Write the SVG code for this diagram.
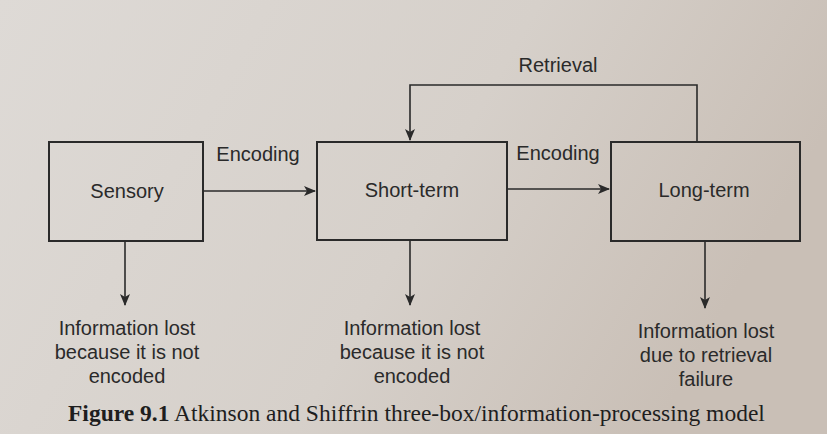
<svg xmlns="http://www.w3.org/2000/svg" width="827" height="434" viewBox="0 0 827 434">
<defs>
<linearGradient id="bg" x1="0" y1="0" x2="1" y2="0.3">
<stop offset="0" stop-color="#dedad6"/><stop offset="0.6" stop-color="#d6d0ca"/><stop offset="1" stop-color="#c9bfb6"/>
</linearGradient>
<marker id="ah" markerWidth="12" markerHeight="10" refX="11" refY="5" orient="auto" markerUnits="userSpaceOnUse">
<path d="M0,0 L12,5 L0,10 L3,5 Z" fill="#2a2a2a"/>
</marker>
</defs>
<style>
.box{fill:none;stroke:#2a2a2a;stroke-width:2}
.ln{fill:none;stroke:#2a2a2a;stroke-width:1.6;marker-end:url(#ah)}
.t{font-family:"Liberation Sans",Arial,sans-serif;font-size:20px;fill:#2a2a2a;text-anchor:middle}
.cap{font-family:"Liberation Serif","Times New Roman",serif;font-size:23.5px;fill:#1e1e1e}
</style>
<rect width="827" height="434" fill="url(#bg)"/>
<g id="sensory"><rect class="box" x="49" y="142" width="154" height="99"/><text class="t" x="127" y="198">Sensory</text></g>
<g id="shortterm"><rect class="box" x="317" y="142" width="190" height="98"/><text class="t" x="412" y="197">Short-term</text></g>
<g id="longterm"><rect class="box" x="611" y="142" width="189" height="99"/><text class="t" x="704" y="197">Long-term</text></g>
<g id="connectors">
<path class="ln" d="M203,191 L315,191"/>
<path class="ln" d="M507,189 L609,189"/>
<path class="ln" d="M697,142 L697,85 L410,85 L410,140"/>
<path class="ln" d="M125,241 L125,305"/>
<path class="ln" d="M410,240 L410,305"/>
<path class="ln" d="M705,241 L705,308"/>
</g>
<g id="labels">
<text class="t" x="258" y="161">Encoding</text>
<text class="t" x="558" y="160">Encoding</text>
<text class="t" x="558" y="72">Retrieval</text>
<text class="t" x="127" y="335">Information lost</text>
<text class="t" x="127" y="359">because it is not</text>
<text class="t" x="127" y="383">encoded</text>
<text class="t" x="412" y="335">Information lost</text>
<text class="t" x="412" y="359">because it is not</text>
<text class="t" x="412" y="383">encoded</text>
<text class="t" x="706" y="338">Information lost</text>
<text class="t" x="706" y="362">due to retrieval</text>
<text class="t" x="706" y="386">failure</text>
</g>
<text class="cap" x="68" y="421"><tspan font-weight="bold">Figure 9.1</tspan>  Atkinson and Shiffrin three-box/information-processing model</text>
</svg>
